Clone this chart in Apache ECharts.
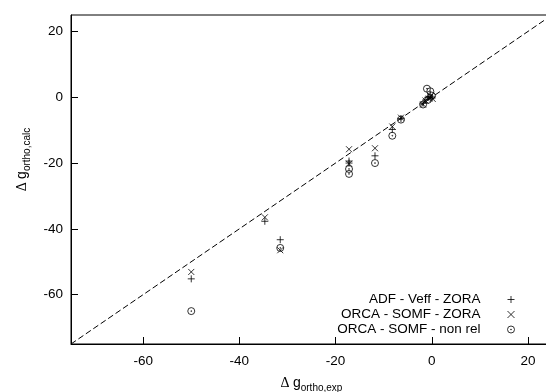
<!DOCTYPE html>
<html><head><meta charset="utf-8">
<script src="https://cdn.jsdelivr.net/npm/echarts@6/dist/echarts.min.js"></script>
<style>html,body{margin:0;padding:0;background:#fff}#c{width:546px;height:392px}</style>
</head><body><div id="c"></div>
<script>
// ---- data ----
var seriesNames = ['ADF - Veff - ZORA', 'ORCA - SOMF - ZORA', 'ORCA - SOMF - non rel'];
var adfX  = [-50, -34.7, -31.5, -17.2, -17.2, -11.8, -8.2, -6.4, -1.8, -1.2, -0.8, -0.3, 0.1];
var adfY  = [-55.2, -37.7, -43.3, -20.0, -19.4, -17.8, -9.8, -6.5, -1.8, -0.8, 0.0, 0.3, -0.2];
var zoraX = [-50, -34.7, -31.5, -17.2, -17.2, -11.8, -8.2, -6.4, -1.8, -1.3, -0.6, -0.2, 0.2];
var zoraY = [-53.1, -36.5, -46.5, -15.8, -20.2, -15.5, -8.9, -6.2, -2.2, -1.0, -0.4, 0.3, -0.5];
var nrX   = [-50, -31.5, -17.2, -17.2, -11.8, -8.2, -6.4, -1.8, -1.0, -0.3, -0.8, 0.0];
var nrY   = [-65.0, -45.8, -21.8, -23.3, -20.0, -11.7, -6.8, -2.2, 2.6, 1.8, -0.8, 0.5];
var diagonal = [-75, 25];
var tickValues = [-60, -40, -20, 0, 20];
var axisMin = -75, axisMax = 25;

function zip(xs, ys){ return xs.map(function(x,i){ return [x, ys[i]]; }); }

var plusPath  = 'path://M5,0L5,10M0,5L10,5';
var crossPath = 'path://M0,0L10,10M10,0L0,10';
var odotPath  = 'path://M10,5A5,5,0,1,1,0,5A5,5,0,1,1,10,5ZM5.6,5A0.6,0.6,0,1,1,4.4,5A0.6,0.6,0,1,1,5.6,5Z';
var mk = {color:'transparent', borderColor:'#000', borderWidth:1};
var font = 'Liberation Sans';

var chart = echarts.init(document.getElementById('c'), null, {renderer:'canvas'});
chart.setOption({
  animation:false,
  backgroundColor:'#fff',
  grid:{left:71, top:15, width:481, height:329, outerBoundsMode:'none', containLabel:false,
        show:true, borderColor:'#000', borderWidth:1, backgroundColor:'transparent'},
  legend:{
    orient:'vertical', align:'right', right:31, top:292, padding:0, itemGap:0,
    itemWidth:7, itemHeight:7,
    data:seriesNames,
    itemStyle:{color:'transparent', borderColor:'#000', borderWidth:1},
    textStyle:{fontFamily:font, fontSize:13.5, color:'#000', lineHeight:15, padding:[0,22,0,0]}
  },
  xAxis:{
    type:'value', min:axisMin, max:axisMax,
    name:'{d|Δ} {g|g}{s|ortho,exp}', nameLocation:'middle', nameGap:30,
    nameTextStyle:{rich:{
      d:{fontFamily:'Liberation Serif', fontSize:14, color:'#000', lineHeight:14},
      g:{fontFamily:font, fontSize:14, color:'#000', lineHeight:14},
      s:{fontFamily:font, fontSize:10, color:'#000', lineHeight:10, padding:[10,0,0,0]}
    }},
    axisLine:{show:true, onZero:false, lineStyle:{color:'#000', width:1}},
    axisTick:{show:true, inside:true, length:7, customValues:tickValues, lineStyle:{color:'#000'}},
    axisLabel:{customValues:tickValues, margin:10, fontFamily:font, fontSize:13.5, color:'#000'},
    splitLine:{show:false}
  },
  yAxis:{
    type:'value', min:axisMin, max:axisMax,
    name:'{d|Δ} {g|g}{s|ortho,calc}', nameLocation:'middle', nameGap:40, nameRotate:90,
    nameTextStyle:{padding:[0,0,0,40], rich:{
      d:{fontFamily:'Liberation Serif', fontSize:14, color:'#000', lineHeight:14},
      g:{fontFamily:font, fontSize:14, color:'#000', lineHeight:14},
      s:{fontFamily:font, fontSize:10, color:'#000', lineHeight:10, padding:[10,0,0,0]}
    }},
    axisLine:{show:true, onZero:false, lineStyle:{color:'#000', width:1}},
    axisTick:{show:true, inside:true, length:7, customValues:tickValues, lineStyle:{color:'#000'}},
    axisLabel:{customValues:tickValues, margin:8, fontFamily:font, fontSize:13.5, color:'#000'},
    splitLine:{show:false}
  },
  series:[
    {type:'line', data:zip(diagonal, diagonal), symbol:'none', silent:true,
     lineStyle:{color:'#000', width:1, type:[6,3]}, z:1},
    {name:seriesNames[0], type:'scatter', data:zip(adfX, adfY), symbol:plusPath, symbolSize:7, itemStyle:mk, z:3},
    {name:seriesNames[1], type:'scatter', data:zip(zoraX, zoraY), symbol:crossPath, symbolSize:6, itemStyle:mk, z:3},
    {name:seriesNames[2], type:'scatter', data:zip(nrX, nrY), symbol:odotPath, symbolSize:7, itemStyle:mk, z:3}
  ]
});
</script>
</body></html>
